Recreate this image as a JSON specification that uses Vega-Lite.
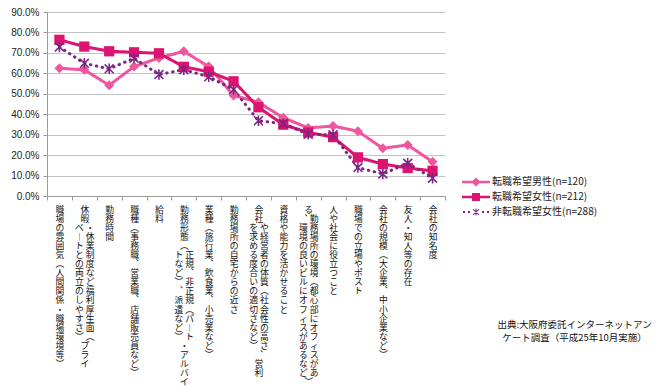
{
  "$schema": "https://vega.github.io/schema/vega-lite/v6.json",
  "width": 398,
  "height": 184,
  "padding": {"left": 10, "top": 7, "right": 0, "bottom": 0},
  "background": "white",
  "config": {
    "view": {"stroke": null},
    "font": "Noto Sans CJK JP"
  },
  "data": {
    "values": [
      {"cat": "職場の雰囲気（人間関係・職場環境等）", "series": "転職希望男性(n=120)", "value": 0.625},
      {"cat": "職場の雰囲気（人間関係・職場環境等）", "series": "転職希望女性(n=212)", "value": 0.764},
      {"cat": "職場の雰囲気（人間関係・職場環境等）", "series": "非転職希望女性(n=288)", "value": 0.729},
      {"cat": "休暇・休業制度など福利厚生面（プライベートとの両立のしやすさ）", "series": "転職希望男性(n=120)", "value": 0.617},
      {"cat": "休暇・休業制度など福利厚生面（プライベートとの両立のしやすさ）", "series": "転職希望女性(n=212)", "value": 0.731},
      {"cat": "休暇・休業制度など福利厚生面（プライベートとの両立のしやすさ）", "series": "非転職希望女性(n=288)", "value": 0.649},
      {"cat": "勤務時間", "series": "転職希望男性(n=120)", "value": 0.542},
      {"cat": "勤務時間", "series": "転職希望女性(n=212)", "value": 0.708},
      {"cat": "勤務時間", "series": "非転職希望女性(n=288)", "value": 0.622},
      {"cat": "職種（事務職、営業職、店舗販売員など）", "series": "転職希望男性(n=120)", "value": 0.633},
      {"cat": "職種（事務職、営業職、店舗販売員など）", "series": "転職希望女性(n=212)", "value": 0.703},
      {"cat": "職種（事務職、営業職、店舗販売員など）", "series": "非転職希望女性(n=288)", "value": 0.674},
      {"cat": "給料", "series": "転職希望男性(n=120)", "value": 0.675},
      {"cat": "給料", "series": "転職希望女性(n=212)", "value": 0.698},
      {"cat": "給料", "series": "非転職希望女性(n=288)", "value": 0.594},
      {"cat": "勤務形態（正規、非正規（パート・アルバイトなど）、派遣など）", "series": "転職希望男性(n=120)", "value": 0.708},
      {"cat": "勤務形態（正規、非正規（パート・アルバイトなど）、派遣など）", "series": "転職希望女性(n=212)", "value": 0.632},
      {"cat": "勤務形態（正規、非正規（パート・アルバイトなど）、派遣など）", "series": "非転職希望女性(n=288)", "value": 0.618},
      {"cat": "業種（旅行業、飲食業、小売業など）", "series": "転職希望男性(n=120)", "value": 0.633},
      {"cat": "業種（旅行業、飲食業、小売業など）", "series": "転職希望女性(n=212)", "value": 0.608},
      {"cat": "業種（旅行業、飲食業、小売業など）", "series": "非転職希望女性(n=288)", "value": 0.583},
      {"cat": "勤務場所の自宅からの近さ", "series": "転職希望男性(n=120)", "value": 0.492},
      {"cat": "勤務場所の自宅からの近さ", "series": "転職希望女性(n=212)", "value": 0.561},
      {"cat": "勤務場所の自宅からの近さ", "series": "非転職希望女性(n=288)", "value": 0.521},
      {"cat": "会社や経営者の体質（社会性の高さ、営利を求める度合いの適切さなど）", "series": "転職希望男性(n=120)", "value": 0.458},
      {"cat": "会社や経営者の体質（社会性の高さ、営利を求める度合いの適切さなど）", "series": "転職希望女性(n=212)", "value": 0.434},
      {"cat": "会社や経営者の体質（社会性の高さ、営利を求める度合いの適切さなど）", "series": "非転職希望女性(n=288)", "value": 0.368},
      {"cat": "資格や能力を活かせること", "series": "転職希望男性(n=120)", "value": 0.383},
      {"cat": "資格や能力を活かせること", "series": "転職希望女性(n=212)", "value": 0.349},
      {"cat": "資格や能力を活かせること", "series": "非転職希望女性(n=288)", "value": 0.354},
      {"cat": "勤務場所の環境（都心部にオフィスがある、環境の良いビルにオフィスがあるなど）", "series": "転職希望男性(n=120)", "value": 0.333},
      {"cat": "勤務場所の環境（都心部にオフィスがある、環境の良いビルにオフィスがあるなど）", "series": "転職希望女性(n=212)", "value": 0.311},
      {"cat": "勤務場所の環境（都心部にオフィスがある、環境の良いビルにオフィスがあるなど）", "series": "非転職希望女性(n=288)", "value": 0.302},
      {"cat": "人や社会に役立つこと", "series": "転職希望男性(n=120)", "value": 0.342},
      {"cat": "人や社会に役立つこと", "series": "転職希望女性(n=212)", "value": 0.288},
      {"cat": "人や社会に役立つこと", "series": "非転職希望女性(n=288)", "value": 0.299},
      {"cat": "職場での立場やポスト", "series": "転職希望男性(n=120)", "value": 0.317},
      {"cat": "職場での立場やポスト", "series": "転職希望女性(n=212)", "value": 0.189},
      {"cat": "職場での立場やポスト", "series": "非転職希望女性(n=288)", "value": 0.139},
      {"cat": "会社の規模（大企業、中小企業など）", "series": "転職希望男性(n=120)", "value": 0.233},
      {"cat": "会社の規模（大企業、中小企業など）", "series": "転職希望女性(n=212)", "value": 0.156},
      {"cat": "会社の規模（大企業、中小企業など）", "series": "非転職希望女性(n=288)", "value": 0.108},
      {"cat": "友人・知人等の存在", "series": "転職希望男性(n=120)", "value": 0.250},
      {"cat": "友人・知人等の存在", "series": "転職希望女性(n=212)", "value": 0.137},
      {"cat": "友人・知人等の存在", "series": "非転職希望女性(n=288)", "value": 0.160},
      {"cat": "会社の知名度", "series": "転職希望男性(n=120)", "value": 0.167},
      {"cat": "会社の知名度", "series": "転職希望女性(n=212)", "value": 0.123},
      {"cat": "会社の知名度", "series": "非転職希望女性(n=288)", "value": 0.087}
    ]
  },
  "encoding": {
    "x": {
      "field": "cat",
      "type": "nominal",
      "sort": null,
      "scale": {"type": "band", "paddingInner": 0, "paddingOuter": 0},
      "axis": {
        "title": ["出典:大阪府委託インターネットアン", "ケート調査（平成25年10月実施）"],
        "titleX": 527,
        "titleY": 123,
        "titleAlign": "center",
        "titleBaseline": "top",
        "titleAngle": 0,
        "titleFont": "Noto Sans CJK JP",
        "titleFontSize": 9.5,
        "titleFontWeight": "normal",
        "titleColor": "#111",
        "titleLineHeight": 13,
        "labelAngle": 0,
        "labelAlign": "center",
        "labelBaseline": "top",
        "labelFont": "Noto Sans CJK JP",
        "labelFontSize": 8.8,
        "labelLineHeight": 9.1,
        "labelPadding": 5,
        "labelColor": "#111",
        "labelOverlap": false,
        "labelLimit": 0,
        "tickBand": "extent",
        "ticks": true,
        "tickSize": 4,
        "tickColor": "#9a9a9a",
        "domainColor": "#9a9a9a",
        "grid": false,
        "labelExpr": "datum.label == '休暇・休業制度など福利厚生面（プライベートとの両立のしやすさ）' ? ['　 休','　 暇','ベ ・','︱ 休','ト 業','と 制','の 度','両 な','立 ど','の 福','し 利','や 厚','す 生','さ 面','︶ ︵','　 プ','　 ラ','　 イ'] : datum.label == '勤務形態（正規、非正規（パート・アルバイトなど）、派遣など）' ? ['　 勤','　 務','　 形','　 態','　 ︵','ト 正','な 規','ど ︑','︶ 非','︑ 正','派 規','遣 ︵','な パ','ど ︱','︶ ト','　 ・','　 ア','　 ル','　 バ','　 イ'] : datum.label == '会社や経営者の体質（社会性の高さ、営利を求める度合いの適切さなど）' ? ['　 会','　 社','を や','求 経','め 営','る 者','度 の','合 体','い 質','の ︵','適 社','切 会','さ 性','な の','ど 高','︶ さ','　 ︑','　 営','　 利'] : datum.label == '勤務場所の環境（都心部にオフィスがある、環境の良いビルにオフィスがあるなど）' ? ['る 　','︑ 勤','環 務','境 場','の 所','良 の','い 環','ビ 境','ル ︵','に 都','オ 心','フ 部','ィ に','ス オ','が フ','あ ィ','る ス','な が','ど あ','︶ 　'] : split(replace(replace(replace(replace(datum.label, regexp('（','g'), '︵'), regexp('）','g'), '︶'), regexp('、','g'), '︑'), regexp('ー','g'), '︱'), '')"
      }
    },
    "y": {
      "field": "value",
      "type": "quantitative",
      "scale": {"domain": [0, 0.9], "nice": false},
      "axis": {
        "title": null,
        "format": ".1%",
        "values": [0, 0.1, 0.2, 0.3, 0.4, 0.5, 0.6, 0.7, 0.8, 0.9],
        "labelFont": "Liberation Sans",
        "labelFontSize": 10,
        "labelColor": "#222",
        "labelPadding": 4,
        "tickSize": 4,
        "tickColor": "#9a9a9a",
        "domainColor": "#9a9a9a",
        "gridColor": "#c4c4c4",
        "gridWidth": 1
      }
    }
  },
  "layer": [
    {
      "mark": {"type": "line", "strokeWidth": 3, "strokeCap": "round", "strokeJoin": "round"},
      "encoding": {
        "color": {
          "field": "series",
          "type": "nominal",
          "scale": {
            "domain": ["転職希望男性(n=120)", "転職希望女性(n=212)", "非転職希望女性(n=288)"],
            "range": ["#F0559D", "#DC1470", "#7B2585"]
          },
          "legend": null
        },
        "strokeDash": {
          "field": "series",
          "type": "nominal",
          "scale": {
            "domain": ["転職希望男性(n=120)", "転職希望女性(n=212)", "非転職希望女性(n=288)"],
            "range": [[1, 0], [1, 0], [0.5, 5.5]]
          },
          "legend": null
        }
      }
    },
    {
      "mark": {"type": "point", "filled": true, "opacity": 1},
      "encoding": {
        "color": {
          "field": "series",
          "type": "nominal",
          "scale": {
            "domain": ["転職希望男性(n=120)", "転職希望女性(n=212)", "非転職希望女性(n=288)"],
            "range": ["#F0559D", "#DC1470", "#7B2585"]
          },
          "legend": null
        },
        "shape": {
          "field": "series",
          "type": "nominal",
          "scale": {
            "domain": ["転職希望男性(n=120)", "転職希望女性(n=212)", "非転職希望女性(n=288)"],
            "range": ["diamond", "square", "M-0.15,-1H0.15V1H-0.15Z M-0.744,-0.956L0.956,0.744L0.744,0.956L-0.956,-0.744Z M0.956,-0.744L-0.744,0.956L-0.956,0.744L0.744,-0.956Z"]
          },
          "legend": null
        },
        "size": {
          "field": "series",
          "type": "nominal",
          "scale": {
            "domain": ["転職希望男性(n=120)", "転職希望女性(n=212)", "非転職希望女性(n=288)"],
            "range": [100, 110, 70]
          },
          "legend": null
        }
      }
    },
    {
      "transform": [{"filter": "datum.value < 0"}],
      "mark": {"type": "point", "filled": true, "opacity": 1},
      "encoding": {
        "color": {
          "field": "series",
          "type": "nominal",
          "scale": {
            "domain": ["転職希望男性(n=120)", "転職希望女性(n=212)", "非転職希望女性(n=288)"],
            "range": ["#F0559D", "#DC1470", "#7B2585"]
          },
          "legend": {
            "orient": "none",
            "legendX": 423,
            "legendY": 164,
            "title": null,
            "labelFont": "Noto Sans CJK JP",
            "labelFontSize": 10,
            "labelColor": "#222",
            "labelOffset": 10,
            "rowPadding": 4,
            "symbolSize": 100
          }
        },
        "shape": {
          "field": "series",
          "type": "nominal",
          "scale": {
            "domain": ["転職希望男性(n=120)", "転職希望女性(n=212)", "非転職希望女性(n=288)"],
            "range": [
              "M-2.8,-0.24H2.8V0.24H-2.8Z M0,-0.9L0.9,0L0,0.9L-0.9,0Z",
              "M-2.8,-0.24H2.8V0.24H-2.8Z M-0.8,-0.8H0.8V0.8H-0.8Z",
              "M-2.6,-0.2H-2.2V0.2H-2.6Z M-1.6,-0.2H-1.2V0.2H-1.6Z M1.2,-0.2H1.6V0.2H1.2Z M2.2,-0.2H2.6V0.2H2.2Z M-0.1,-0.7H0.1V0.7H-0.1Z M-0.521,-0.669L0.669,0.521L0.521,0.669L-0.669,-0.521Z M0.669,-0.521L-0.521,0.669L-0.669,0.521L0.521,-0.669Z"
            ]
          },
          "legend": {
            "orient": "none",
            "legendX": 423,
            "legendY": 164,
            "title": null,
            "labelFont": "Noto Sans CJK JP",
            "labelFontSize": 10,
            "labelColor": "#222",
            "labelOffset": 10,
            "rowPadding": 4,
            "symbolSize": 100
          }
        }
      }
    }
  ],
  "resolve": {
    "scale": {"color": "independent", "shape": "independent", "size": "independent", "strokeDash": "independent"}
  }
}
